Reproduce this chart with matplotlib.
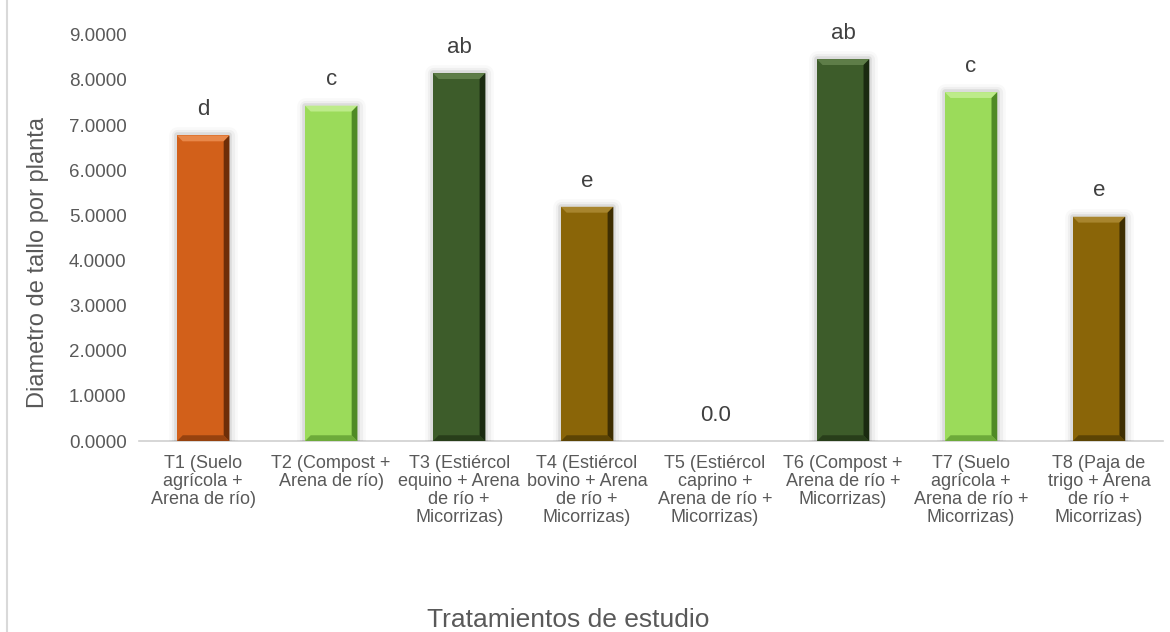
import matplotlib.pyplot as plt
import matplotlib.patheffects as pe
from matplotlib.patches import Polygon

categories = [
    'T1 (Suelo\nagrícola +\nArena de río)',
    'T2 (Compost +\nArena de río)',
    'T3 (Estiércol\nequino + Arena\nde río +\nMicorrizas)',
    'T4 (Estiércol\nbovino + Arena\nde río +\nMicorrizas)',
    'T5 (Estiércol\ncaprino +\nArena de río +\nMicorrizas)',
    'T6 (Compost +\nArena de río +\nMicorrizas)',
    'T7 (Suelo\nagrícola +\nArena de río +\nMicorrizas)',
    'T8 (Paja de\ntrigo + Arena\nde río +\nMicorrizas)',
]
values = [6.77, 7.43, 8.15, 5.19, 0.0, 8.46, 7.73, 4.97]
letters = ['d', 'c', 'ab', 'e', '0.0', 'ab', 'c', 'e']
colors = ['#D2601A', '#9BDB5A', '#3D5C2A', '#8A6508',
          '#8A6508', '#3D5C2A', '#9BDB5A', '#8A6508']
lights = ['#E8884A', '#BDEB8A', '#5E7D48', '#A8852E',
          '#A8852E', '#5E7D48', '#BDEB8A', '#A8852E']
darks = ['#6E2E08', '#4F8A25', '#1A2A10', '#3E2E02',
         '#3E2E02', '#1A2A10', '#4F8A25', '#3E2E02']

plt.rcParams['font.family'] = ['Liberation Sans', 'DejaVu Sans']

fig = plt.figure(figsize=(11.7, 6.32), dpi=100)
ax = fig.add_axes([0.119, 0.302, 0.875, 0.643])

x = range(len(categories))
bars = ax.bar(x, values, width=0.41, color=colors, linewidth=0, zorder=3)
glow = [pe.Stroke(linewidth=12, foreground='black', alpha=0.025, joinstyle='round'),
        pe.Stroke(linewidth=8, foreground='black', alpha=0.04, joinstyle='round'),
        pe.Stroke(linewidth=4, foreground='black', alpha=0.08, joinstyle='round'),
        pe.Normal()]

# bevel: lighter top, darker right/bottom
bx, by = 0.045, 0.13
for b, lc, dc in zip(bars, lights, darks):
    x0, w, h = b.get_x(), b.get_width(), b.get_height()
    if h <= 0:
        b.set_visible(False)
        continue
    b.set_path_effects(glow)
    x1 = x0 + w
    ax.add_patch(Polygon([(x0, h), (x1, h), (x1 - bx, h - by), (x0 + bx, h - by)],
                         closed=True, color=lc, lw=0, zorder=4))
    ax.add_patch(Polygon([(x1, h), (x1, 0), (x1 - bx, by), (x1 - bx, h - by)],
                         closed=True, color=dc, lw=0, zorder=4))
    ax.add_patch(Polygon([(x0, 0), (x1, 0), (x1 - bx, by), (x0 + bx, by)],
                         closed=True, color=dc, lw=0, alpha=0.6, zorder=4))

for xi, v, t in zip(x, values, letters):
    ax.annotate(t, (xi, v), xytext=(0, 11), textcoords='offset points',
                ha='center', va='bottom', fontsize=16, color='#404040')

ax.set_ylim(0, 9)
ax.set_xlim(-0.5, len(categories) - 0.5)
ax.set_yticks(range(10))
ax.set_yticklabels([f'{i:.4f}' for i in range(10)])
ax.set_xticks(list(x))
ax.set_xticklabels(categories, fontsize=13, color='#595959', linespacing=1.08)
ax.tick_params(axis='y', length=0, labelsize=13.5, labelcolor='#595959', pad=9)
ax.tick_params(axis='x', length=0, pad=10)

for s in ['top', 'right', 'left']:
    ax.spines[s].set_visible(False)
ax.spines['bottom'].set_color('#D0D0D0')
ax.spines['bottom'].set_linewidth(1.2)

ax.set_ylabel('Diametro de tallo por planta', fontsize=17, color='#595959')
ax.yaxis.set_label_coords(-0.088, 0.44)
fig.text(0.486, 0.019, 'Tratamientos de estudio', ha='center', va='center',
         fontsize=19, color='#595959')

# chart border on left
fig.add_artist(plt.Line2D([0.006, 0.006], [0, 1], color='#D9D9D9', linewidth=1.5))

fig.savefig('out.png', dpi=100)
